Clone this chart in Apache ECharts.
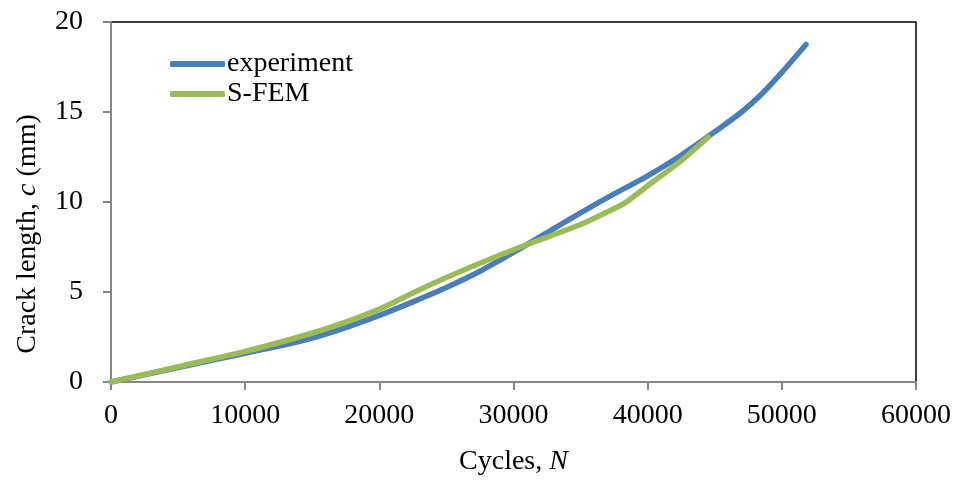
<!DOCTYPE html>
<html>
<head>
<meta charset="utf-8">
<script src="https://cdn.jsdelivr.net/npm/echarts@6/dist/echarts.min.js"></script>
<style>
  html, body { margin: 0; padding: 0; background: #fff; }
  #chart { width: 956px; height: 481px; }
</style>
</head>
<body>
<div id="chart"></div>
<script>
// values (cycles N, crack length c in mm)
var experiment = [
    [0, 0], [5000, 0.8], [10000, 1.6], [14000, 2.25], [17000, 2.9],
    [20000, 3.7], [22500, 4.45], [25000, 5.25], [27500, 6.15], [30000, 7.2],
    [32500, 8.3], [35000, 9.4], [37500, 10.45], [40000, 11.45], [42500, 12.6],
    [45000, 13.9], [47000, 15.0], [48500, 16.0], [50000, 17.2], [51800, 18.75]
];
var sfem = [
    [0, 0], [5000, 0.85], [10000, 1.7], [14000, 2.5], [17000, 3.2],
    [20000, 4.05], [22500, 4.95], [25000, 5.8], [27500, 6.6], [30000, 7.35],
    [32500, 8.05], [35000, 8.75], [37000, 9.45], [38300, 9.95], [40000, 10.9],
    [42500, 12.3], [44500, 13.6]
];
var seriesNames = ["experiment", "S-FEM"];

var serif = "Liberation Serif";
var chart = echarts.init(document.getElementById("chart"));

var option = {
    animation: false,
    textStyle: { fontFamily: serif, color: "#000" },
    grid: { left: 111, right: 40, top: 22, bottom: 97, show: true, borderColor: "#000", borderWidth: 1.5 },
    legend: {
        orient: "vertical",
        left: 165,
        top: 45,
        itemGap: 2,
        itemWidth: 55,
        itemHeight: 6,
        icon: "roundRect",
        textStyle: { fontFamily: serif, fontSize: 28, color: "#000", padding: [0, 0, 0, -3] },
        data: seriesNames
    },
    xAxis: {
        type: "value",
        min: 0, max: 60000, interval: 10000,
        axisLine: { show: true, lineStyle: { color: "#868686", width: 2 } },
        axisTick: { show: true, length: 8, lineStyle: { color: "#868686", width: 2 } },
        splitLine: { show: false },
        axisLabel: { fontFamily: serif, fontSize: 28, color: "#000", margin: 20, formatter: function (v) { return String(v); } },
        name: "{n|Cycles, }{i|N}",
        nameLocation: "middle",
        nameGap: 66,
        nameTextStyle: {
            rich: {
                n: { fontFamily: serif, fontSize: 28, color: "#000" },
                i: { fontFamily: serif, fontSize: 28, color: "#000", fontStyle: "italic" }
            }
        }
    },
    yAxis: {
        type: "value",
        min: 0, max: 20, interval: 5,
        axisLine: { show: true, lineStyle: { color: "#868686", width: 2 } },
        axisTick: { show: true, length: 8, lineStyle: { color: "#868686", width: 2 } },
        splitLine: { show: false },
        axisLabel: { fontFamily: serif, fontSize: 28, color: "#000", margin: 28 },
        name: "{n|Crack length, }{i|c}{n| (mm)}",
        nameLocation: "middle",
        nameGap: 69,
        nameTextStyle: {
            padding: [0, 64, 0, 0],
            rich: {
                n: { fontFamily: serif, fontSize: 28, color: "#000" },
                i: { fontFamily: serif, fontSize: 28, color: "#000", fontStyle: "italic" }
            }
        }
    },
    series: [
        {
            name: seriesNames[0],
            type: "line",
            data: experiment,
            smooth: 0.3,
            showSymbol: false,
            color: "#4a7ebb",
            lineStyle: { width: 5.5, color: "#4a7ebb", cap: "round" }
        },
        {
            name: seriesNames[1],
            type: "line",
            data: sfem,
            smooth: 0.3,
            showSymbol: false,
            color: "#9bbb59",
            lineStyle: { width: 5.5, color: "#9bbb59", cap: "round" }
        }
    ]
};
chart.setOption(option);
</script>
</body>
</html>
